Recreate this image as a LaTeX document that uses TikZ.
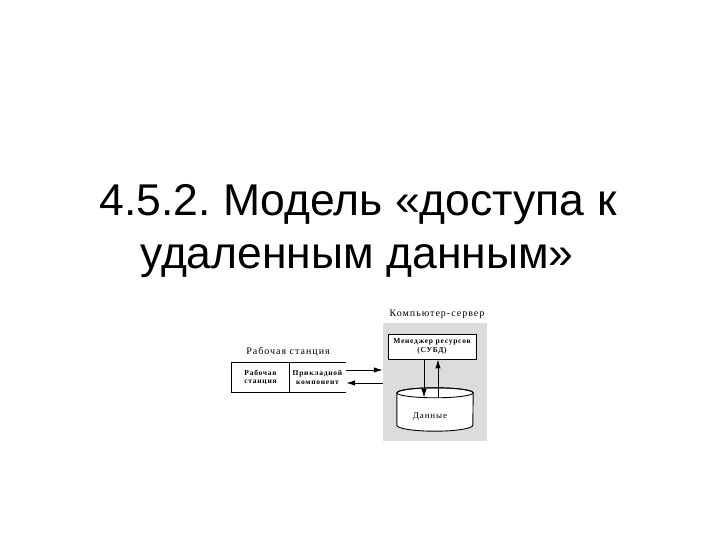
\documentclass[tikz,border=0pt]{standalone}
\usepackage{fontspec}
\setmainfont{Liberation Serif}
\newfontfamily\arialf{Liberation Sans}
\newfontfamily\diagf[LetterSpace=10]{Liberation Serif}
\usetikzlibrary{arrows.meta}
\definecolor{panelgray}{RGB}{220,220,220}
\frenchspacing
\tikzset{
  titletext/.style={font=\arialf\fontsize{44.5}{46}\selectfont, anchor=base, inner sep=0pt},
  caption/.style={font=\diagf\fontsize{10}{11}\selectfont, inner sep=0pt},
  cell/.style={minimum width=57pt, minimum height=29pt, inner sep=0pt, align=center,
    font=\diagf\bfseries\fontsize{7.5}{8.5}\selectfont},
  conn/.style={line width=1pt, -{Latex[length=9pt,width=5.5pt]}},
  outline/.style={line width=0.9pt},
}
\begin{document}
\begin{tikzpicture}[x=1pt,y=-1pt]
\useasboundingbox (0,0) rectangle (720,540);
% title
\node[titletext] (t1) at (358,215) {4.5.2. Модель «доступа к};
\node[titletext] (t2) at (357,268) {удаленным данным»};
% server panel
\node[fill=panelgray, minimum width=104pt, minimum height=118pt, inner sep=0pt] (panel) at (435,382) {};
\node[caption] (srvcap) at (437,314) {Компьютер-сервер};
\node[draw, outline, fill=white, minimum width=88pt, minimum height=25pt, inner sep=0pt, align=center,
      font=\diagf\bfseries\fontsize{7.5}{9}\selectfont] (mgr) at (432,346.5) {Менеджер ресурсов\\(СУБД)};
% cylinder (data store)
\node[minimum width=76pt, minimum height=32pt, inner sep=0pt] (data) at (435,409) {};
\filldraw[outline, fill=white] (data.north west) -- (data.south west)
   arc[start angle=180, end angle=360, x radius=38pt, y radius=6pt] -- (data.north east)
   arc[start angle=0, end angle=180, x radius=38pt, y radius=5pt] -- cycle;
\draw[outline] (data.north) ellipse[x radius=38pt, y radius=5pt];
\coordinate (cyltop) at ([yshift=-5pt]data.north);
\node[font=\diagf\fontsize{9}{10}\selectfont, inner sep=0pt] (datalbl) at (430,417) {Данные};
\draw[conn] (mgr.south -| 424,0) -- (cyltop -| 424,0);
\draw[conn] (cyltop -| 438,0) -- (mgr.south -| 438,0);
% workstation
\node[caption] (wscap) at (288,352) {Рабочая станция};
\node[cell] (ws) at (260.5,377.5) {Рабочая\\станция};
\node[cell] (app) at (317.5,377.5) {Прикладной\\компонент};
\draw[outline] (app.north east) -- (ws.north west) -- (ws.south west) -- (app.south east);
\draw[outline] (ws.north east) -- (ws.south east);
\coordinate (pin) at (panel.west |- 0,370);
\coordinate (pout) at (panel.west |- 0,383);
\draw[conn] (app.east |- pin) -- (pin);
\draw[conn] (pout) -- (app.east |- pout);
\end{tikzpicture}
\end{document}
